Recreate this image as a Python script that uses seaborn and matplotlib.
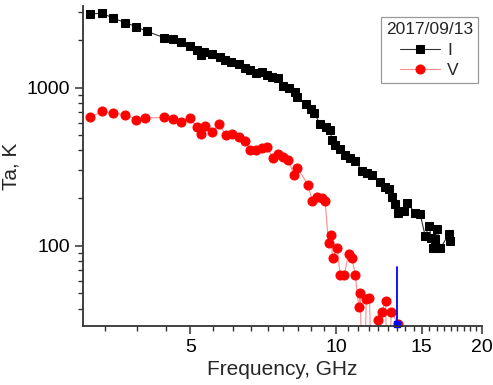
import numpy as np
import pandas as pd
import seaborn as sns
import matplotlib
matplotlib.use("Agg")
import matplotlib.pyplot as plt
from matplotlib.ticker import FixedLocator, NullFormatter, LogLocator

# Stokes I (black squares)
freq_i = [3.10, 3.29, 3.47, 3.67, 3.87, 4.06, 4.42, 4.61, 4.78, 4.98,
          5.16, 5.26, 5.34, 5.54, 5.75, 5.90, 6.07, 6.29, 6.49, 6.65,
          6.84, 7.03, 7.20, 7.37, 7.57, 7.78, 8.00, 8.23, 8.31, 8.65,
          8.86, 9.01, 9.27, 9.51, 9.72, 9.80, 9.95, 10.19, 10.44, 10.69,
          10.95, 11.30, 11.57, 11.85, 12.32, 12.62, 12.82, 13.03, 13.23, 13.44,
          13.77, 13.99, 14.55, 14.90, 15.26, 15.55, 15.70, 15.81, 16.01, 16.16,
          16.40, 17.05, 17.19]
ta_i = [2920, 2950, 2742, 2572, 2425, 2268, 2065, 2026, 1948, 1837,
        1725, 1604, 1683, 1627, 1564, 1490, 1454, 1406, 1320, 1288,
        1238, 1256, 1197, 1168, 1141, 1027, 990, 940, 874, 783,
        728, 687, 585, 560, 536, 463, 430, 410, 372, 359,
        345, 298, 287, 281, 252, 234, 228, 202, 183, 162,
        166, 185, 162, 158, 115, 134, 112, 97, 110, 127,
        96, 118, 107]

# Stokes V (red circles); values under the axis floor drop out of view
freq_v = [3.10, 3.29, 3.47, 3.67, 3.87, 4.04, 4.42, 4.61, 4.78, 4.98,
          5.16, 5.26, 5.36, 5.54, 5.73, 5.92, 6.09, 6.29, 6.47, 6.65,
          6.82, 7.03, 7.20, 7.39, 7.60, 7.77, 7.97, 8.17, 8.31, 8.74,
          8.92, 9.12, 9.34, 9.48, 9.64, 9.75, 9.83, 10.04, 10.19, 10.39,
          10.60, 10.78, 10.95, 11.12, 11.21, 11.37, 11.53, 11.71, 11.92, 12.22,
          12.42, 12.64, 12.80, 12.98, 13.44]
ta_v = [647, 707, 690, 672, 627, 641, 647, 634, 609, 645,
        560, 505, 572, 523, 585, 501, 505, 484, 461, 402,
        405, 415, 422, 359, 379, 362, 347, 281, 312, 243,
        193, 203, 201, 193, 104, 117, 83, 97, 65, 65,
        89, 83, 65, 41, 50, 5, 46, 47, 5, 34,
        38, 45, 5, 38, 32]

# blue marker line
freq_b = [13.32, 13.32]
ta_b = [73, 32]

df_i = pd.DataFrame({"Frequency": freq_i, "Ta": ta_i})
df_v = pd.DataFrame({"Frequency": freq_v, "Ta": ta_v})

sns.set_theme(style="ticks")
plt.rcParams["font.family"] = ["Liberation Sans", "DejaVu Sans"]

f, ax = plt.subplots(figsize=(4.93, 3.85), dpi=100)
f.subplots_adjust(left=0.168, right=0.978, top=0.984, bottom=0.153)

sns.lineplot(x="Frequency", y="Ta", data=df_i, ax=ax, sort=False, color="#333333",
             lw=0.8, marker="s", markersize=5.5, markerfacecolor="black",
             markeredgecolor="black", label="I")
sns.lineplot(x="Frequency", y="Ta", data=df_v, ax=ax, sort=False, color="#ff8c8c",
             lw=0.8, marker="o", markersize=6.5, markerfacecolor="red",
             markeredgecolor="red", label="V")
ax.plot(freq_b, ta_b, color="blue", lw=1.3)
ax.plot(freq_b[-1:], ta_b[-1:], "s", color="blue", markersize=5, clip_on=False)

ax.set_xscale("log")
ax.set_yscale("log")
ax.set_xlim(3.0, 20)
ax.set_ylim(31, 3270)

ax.xaxis.set_major_locator(FixedLocator([5, 10, 15, 20]))
ax.set_xticklabels(["5", "10", "15", "20"])
minor_x = [v for v in np.arange(5 - 4 * 5 / 9, 20, 5 / 9) if v > 3.0 and abs((v / 5) - round(v / 5)) > 0.01]
ax.xaxis.set_minor_locator(FixedLocator(minor_x))
ax.xaxis.set_minor_formatter(NullFormatter())
ax.yaxis.set_major_locator(FixedLocator([100, 1000]))
ax.set_yticklabels(["100", "1000"])
ax.yaxis.set_minor_locator(LogLocator(base=10, subs=np.arange(2, 10)))
ax.yaxis.set_minor_formatter(NullFormatter())

ax.tick_params(which="major", length=6, width=1.1, labelsize=14, colors="#333333", labelcolor="black")
ax.tick_params(which="minor", length=3.5, width=1.0, colors="#333333")
for s in ["left", "bottom"]:
    ax.spines[s].set_linewidth(1.3)
    ax.spines[s].set_color("#333333")
sns.despine(ax=ax)

ax.set_xlabel("Frequency, GHz", fontsize=15, labelpad=3)
ax.set_ylabel("Ta, K", fontsize=15, labelpad=4)

leg = ax.legend(title="2017/09/13", loc="upper right", bbox_to_anchor=(0.99, 0.966),
                fontsize=12.5, title_fontsize=12.5, frameon=True, fancybox=False,
                edgecolor="#999999", framealpha=1, borderpad=0.3, labelspacing=0.3,
                handlelength=2.3, handletextpad=0.4, borderaxespad=0)
leg.get_frame().set_linewidth(0.9)

plt.savefig("out.png", dpi=100)
